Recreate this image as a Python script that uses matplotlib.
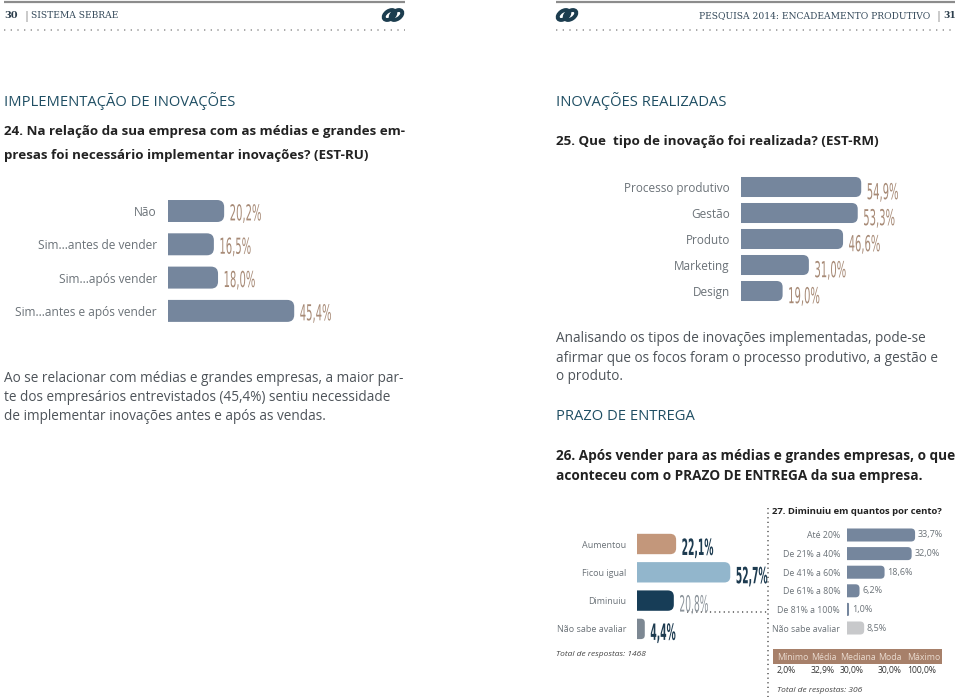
import numpy as np
import matplotlib.pyplot as plt
from matplotlib.patches import FancyBboxPatch, Rectangle, Ellipse
from matplotlib.patches import BoxStyle
from matplotlib.patheffects import AbstractPathEffect
from matplotlib.transforms import Affine2D

W, H = 960, 697

# ---- data ----
q24_labels = ['Não', 'Sim...antes de vender', 'Sim...após vender', 'Sim...antes e após vender']
q24_values = [20.2, 16.5, 18.0, 45.4]

q25_labels = ['Processo produtivo', 'Gestão', 'Produto', 'Marketing', 'Design']
q25_values = [54.9, 53.3, 46.6, 31.0, 19.0]

q26_labels = ['Aumentou', 'Ficou igual', 'Diminuiu', 'Não sabe avaliar']
q26_values = [22.1, 52.7, 20.8, 4.4]

q27_labels = ['Até 20%', 'De 21% a 40%', 'De 41% a 60%', 'De 61% a 80%', 'De 81% a 100%', 'Não sabe avaliar']
q27_values = [33.7, 32.0, 18.6, 6.2, 1.0, 8.5]

q27_stat_names = ['Mínimo', 'Média', 'Mediana', 'Moda', 'Máximo']
q27_stat_values = [2.0, 32.9, 30.0, 30.0, 100.0]

total_26 = 1468
total_27 = 306

# ---- colours ----
TEAL = '#1f4e63'
DARK = '#222222'
TXT = '#4d5359'
LAB = '#6b7278'
SLATE = '#75869d'
TAN = '#a78a76'
NAVY = '#1d3b50'
BODY = 'Open Sans'


class Stretch(AbstractPathEffect):
    # stretches glyphs vertically about the baseline (tall condensed look)
    def __init__(self, sy):
        super().__init__()
        self.sy = sy

    def draw_path(self, renderer, gc, tpath, affine, rgbFace=None):
        renderer.draw_path(gc, tpath, Affine2D().scale(1, self.sy) + affine, rgbFace)


def pct(v):
    return ('%.1f%%' % v).replace('.', ',')


fig = plt.figure(figsize=(W / 100, H / 100), dpi=100)
plt.rcParams['font.family'] = [BODY, 'DejaVu Sans']

deco = fig.add_axes([0, 0, 1, 1])
deco.set_xlim(0, W)
deco.set_ylim(H, 0)
deco.axis('off')


def T(x, y, s, **kw):
    kw.setdefault('va', 'center')
    deco.text(x, y, s, **kw)


def bars(x0, yc0, step, wpx, scale, labels, values, colors, vcolors,
         barh=0.7, lsize=8, vsize=7.2, stretch=2.2, weights=None, r_px=6, pad=8, voff=4, vdy=0):
    n = len(values)
    top = yc0 - step / 2
    ax = fig.add_axes([x0 / W, 1 - (top + n * step) / H, wpx / W, n * step / H])
    ax.set_facecolor('none')
    xmax = wpx / scale
    ax.set_xlim(0, xmax)
    ax.set_ylim(n - 0.5, -0.5)
    for s in ax.spines.values():
        s.set_visible(False)
    ax.set_xticks([])
    ax.set_yticks(range(n))
    ax.set_yticklabels(labels, fontsize=lsize, color=LAB)
    ax.tick_params(axis='y', length=0, pad=pad)
    rects = ax.barh(range(n), values, height=barh, color=colors)
    xd = xmax / wpx
    yd = n / (n * step)
    if weights is None:
        weights = ['normal'] * n
    for i, rc in enumerate(rects):
        rc.set_visible(False)
        w = rc.get_width()
        r = min(r_px * xd, w * 0.5)
        fb = FancyBboxPatch((rc.get_x() - r, rc.get_y()), w + r, rc.get_height(),
                            boxstyle=BoxStyle.Round(pad=0, rounding_size=r),
                            mutation_aspect=yd / xd, facecolor=rc.get_facecolor(),
                            edgecolor='none')
        ax.add_patch(fb)
        if stretch:
            kw = dict(family='DejaVu Sans', path_effects=[Stretch(stretch)], va='baseline')
            dy = vdy - 0.73 * vsize * stretch / 2
        else:
            kw = dict(va='center')
            dy = vdy
        ax.annotate(pct(values[i]), (w, i), xytext=(voff, dy), textcoords='offset points',
                    ha='left', fontsize=vsize, color=vcolors[i], weight=weights[i],
                    annotation_clip=False, **kw)
    return ax


# ---- header ----
for xa, xb in [(4, 405), (556, 955)]:
    deco.plot([xa, xb], [2, 2], color='#8c8c8c', lw=1.6, solid_capstyle='butt')
    deco.plot([xa, xb], [30, 30], color='#9a9a9a', lw=1.2, ls=(0, (0.8, 3.2)))
T(4, 16, '30', fontsize=7, family='DejaVu Serif', weight='bold', color='#2c3e4c')
T(23, 16, '|', fontsize=8, color='#777777')
T(31, 16, 'SISTEMA SEBRAE', fontsize=6.6, family='DejaVu Serif', color='#34495a')
T(930, 16, 'PESQUISA 2014: ENCADEAMENTO PRODUTIVO', fontsize=6.6, family='DejaVu Serif',
  color='#34495a', ha='right')
T(938, 16, '|', fontsize=8, color='#777777', ha='center')
T(956, 16, '31', fontsize=6.5, family='DejaVu Serif', weight='bold', color='#2c3e4c', ha='right')
for lx in (393, 567):
    for dx in (-3.5, 3.5):
        deco.add_patch(Ellipse((lx + dx, 15), 13, 8, angle=-35, fill=False,
                               edgecolor='#1c3d4f', lw=2.8))

# ---- left column ----
T(4, 101, 'IMPLEMENTAÇÃO DE INOVAÇÕES', fontsize=10.6, color=TEAL)
T(4, 131, '24. Na relação da sua empresa com as médias e grandes em-', fontsize=9.6,
  weight='bold', color=DARK)
T(4, 155, 'presas foi necessário implementar inovações? (EST-RU)', fontsize=9.6,
  weight='bold', color=DARK)
bars(168, 211, 33.3, 200, 2.78, q24_labels, q24_values, SLATE, [TAN] * 4,
     barh=0.66, lsize=8.6, r_px=7, vdy=-1)
para_l = ['Ao se relacionar com médias e grandes empresas, a maior par-',
          'te dos empresários entrevistados (45,4%) sentiu necessidade',
          'de implementar inovações antes e após as vendas.']
for k, line in enumerate(para_l):
    T(4, 378 + k * 19.5, line, fontsize=9.8, color=TXT)

# ---- right column ----
T(556, 101, 'INOVAÇÕES REALIZADAS', fontsize=10.6, color=TEAL)
T(556, 141, '25. Que  tipo de inovação foi realizada? (EST-RM)', fontsize=9.7,
  weight='bold', color=DARK)
bars(741, 187, 26, 200, 2.19, q25_labels, q25_values, SLATE, [TAN] * 5,
     barh=0.77, lsize=8.5, r_px=6, vdy=-3)
para_r = ['Analisando os tipos de inovações implementadas, pode-se',
          'afirmar que os focos foram o processo produtivo, a gestão e',
          'o produto.']
for k, line in enumerate(para_r):
    T(556, 339 + k * 19, line, fontsize=9.8, color=TXT)
T(556, 417, 'PRAZO DE ENTREGA', fontsize=10.6, color=TEAL)
T(556, 456, '26. Após vender para as médias e grandes empresas, o que', fontsize=9.8,
  weight='bold', color=DARK)
T(556, 476, 'aconteceu com o PRAZO DE ENTREGA da sua empresa.', fontsize=9.8,
  weight='bold', color=DARK)

bars(637, 544, 28.3, 130, 1.77, q26_labels, q26_values,
     ['#c3977b', '#92b6cc', '#173d57', '#7d8893'], [NAVY, NAVY, '#8c949b', NAVY],
     barh=0.72, lsize=6.5, vsize=6.6, stretch=2.45,
     weights=['bold', 'bold', 'normal', 'bold'], r_px=6, vdy=-2)
T(556, 654, 'Total de respostas: %d' % total_26, fontsize=6, style='italic', color='#444444')

# connector and divider
deco.plot([687, 768], [612, 612], color='#555555', lw=1.1, ls=(0, (0.8, 2.2)))
deco.plot([768, 768], [508, 697], color='#555555', lw=1.1, ls=(0, (0.8, 2.2)))

T(772, 512, '27. Diminuiu em quantos por cento?', fontsize=6.8, weight='bold', color=DARK)
bars(847, 535, 18.6, 110, 2.02, q27_labels, q27_values,
     [SLATE] * 5 + ['#c8c9cb'], ['#6b7278'] * 6,
     barh=0.7, lsize=6.3, vsize=6.5, stretch=None, r_px=4, pad=5, voff=2)

deco.add_patch(Rectangle((773, 649), 169, 15, facecolor='#a7806a', edgecolor='none'))
stat_x = [777, 811, 840, 878, 907]
for xs, nm, v in zip(stat_x, q27_stat_names, q27_stat_values):
    T(xs, 657, nm, fontsize=6.3, color='#eadbcf')
    T(xs, 671, pct(v), fontsize=6.2, color='#333333')
T(777, 690, 'Total de respostas: %d' % total_27, fontsize=6, style='italic', color='#444444')

fig.savefig('out.png', dpi=100)
